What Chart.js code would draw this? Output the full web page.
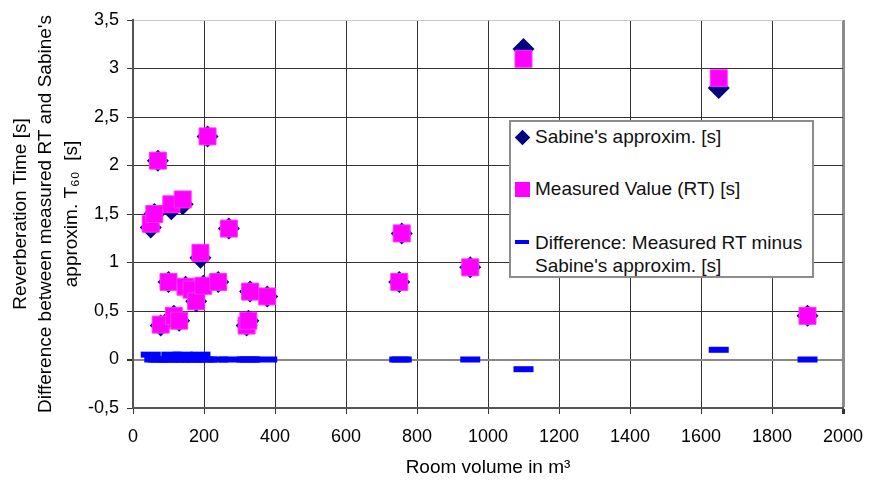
<!DOCTYPE html>
<html>
<head>
<meta charset="utf-8">
<script src="https://cdn.jsdelivr.net/npm/chart.js@4.4.1/dist/chart.umd.min.js"></script>
<style>
body { margin: 0; background: #fff; font-family: "Liberation Sans", Arial, sans-serif; }
#wrap { position: relative; width: 870px; height: 486px; }
#legendBox { position: absolute; left: 509px; top: 120px; width: 301px; height: 154px; border: 2px solid #8c8c8c; background: #fff; }
.item { position: absolute; left: 24px; font-size: 19px; color: #111; white-space: nowrap; line-height: 22px; }
.mk { position: absolute; }
</style>
</head>
<body>
<div id="wrap">
  <canvas id="rtChart" width="870" height="486"></canvas>
  <div id="legendBox">
    <div class="mk" style="left:6px;top:9.5px;width:11px;height:11px;background:#000080;transform:rotate(45deg);"></div>
    <div class="item" style="top:4px;">Sabine's approxim. [s]</div>
    <div class="mk" style="left:3.5px;top:59.5px;width:15px;height:15px;background:#ff00ff;"></div>
    <div class="item" style="top:56px;">Measured Value (RT) [s]</div>
    <div class="mk" style="left:4px;top:118px;width:14px;height:4px;background:#0000ff;"></div>
    <div class="item" style="top:108.5px;line-height:23px;">Difference: Measured RT minus<br>Sabine's approxim. [s]</div>
  </div>
</div>
<script>
// room volume [m3] for each measured room
const volumes    = [50, 60, 70, 78, 100, 108, 115, 130, 140, 148, 165, 178, 190, 198, 210, 240, 270, 320, 325, 330, 378, 750, 757, 950, 1100, 1650, 1900];
// Sabine's approximation [s]
const sabine     = [1.36, 1.50, 2.05, 0.35, 0.80, 1.55, 0.45, 0.40, 1.60, 0.75, 0.72, 0.60, 1.05, 0.76, 2.30, 0.80, 1.35, 0.35, 0.40, 0.70, 0.65, 0.80, 1.30, 0.95, 3.20, 2.80, 0.45];
// measured reverberation time [s]
const measured   = [1.40, 1.50, 2.05, 0.36, 0.80, 1.60, 0.45, 0.40, 1.65, 0.75, 0.72, 0.60, 1.10, 0.76, 2.30, 0.80, 1.35, 0.35, 0.40, 0.70, 0.65, 0.80, 1.30, 0.95, 3.10, 2.90, 0.45];
// difference measured minus Sabine [s]
const difference = [0.05, 0.00, 0.00, 0.00, 0.00, 0.05, 0.00, 0.00, 0.05, 0.00, 0.00, 0.00, 0.05, 0.00, 0.00, 0.00, 0.00, 0.00, 0.00, 0.00, 0.00, 0.00, 0.00, 0.00, -0.10, 0.10, 0.00];

const toPoints = (vals) => volumes.map((v, i) => ({ x: v, y: vals[i] }));
const family = '"Liberation Sans", Arial, sans-serif';
const tickFont = { family: family, size: 18 };

const ctx = document.getElementById('rtChart').getContext('2d');
const rtChart = new Chart(ctx, {
    type: 'scatter',
    data: {
        datasets: [{
            label: 'Difference: Measured RT minus Sabine\'s approxim. [s]',
            data: toPoints(difference),
            pointStyle: 'line',
            pointRadius: 10,
            borderColor: '#0000ff',
            borderWidth: 6,
            order: 1
        }, {
            label: 'Measured Value (RT) [s]',
            data: toPoints(measured),
            pointStyle: 'rect',
            pointRadius: 12,
            backgroundColor: '#ff00ff',
            borderColor: '#ff33ff',
            borderWidth: 1,
            order: 2
        }, {
            label: 'Sabine\'s approxim. [s]',
            data: toPoints(sabine),
            pointStyle: 'rectRot',
            pointRadius: 11,
            backgroundColor: '#000080',
            borderColor: '#000080',
            borderWidth: 0,
            order: 3
        }]
    },
    options: {
        responsive: false,
        animation: false,
        layout: { padding: { left: 0, right: 27, top: 20, bottom: 0 } },
        plugins: {
            legend: { display: false },
            tooltip: { enabled: false }
        },
        scales: {
            x: {
                type: 'linear',
                min: 0,
                max: 2000,
                afterFit: (scale) => {
                    scale.height = 78;
                    scale.paddingLeft = 0;
                    scale.paddingRight = 0;
                },
                ticks: { stepSize: 200, color: '#000', font: tickFont, padding: 12, maxRotation: 0, callback: (v) => String(v) },
                grid: {
                    color: (c) => c.tick && c.tick.value === 2000 ? '#8c8c8c' : '#333',
                    lineWidth: (c) => c.tick && c.tick.value === 2000 ? 3 : 1,
                    tickLength: 6,
                    tickColor: '#333'
                },
                border: { color: '#555', width: 2 },
                title: { display: true, text: 'Room volume in m³', color: '#000', font: { family: family, size: 19 }, padding: { top: 0, bottom: 7 } }
            },
            y: {
                min: -0.5,
                max: 3.5,
                afterFit: (scale) => { scale.width = 133; },
                ticks: {
                    stepSize: 0.5,
                    color: '#000',
                    font: tickFont,
                    padding: 8,
                    callback: (v) => String(v).replace('.', ',')
                },
                grid: {
                    color: (c) => c.tick && c.tick.value === 3.5 ? '#c8c8c8' : (c.tick && c.tick.value === 0 ? '#888' : '#333'),
                    lineWidth: (c) => c.tick && c.tick.value === 0 ? 2 : 1,
                    tickLength: 6,
                    tickColor: '#333'
                },
                border: { color: '#555', width: 2 },
                title: {
                    display: true,
                    text: ['Reverberation Time [s]', 'Difference between measured RT and Sabine\'s', 'approxim. T\u2086\u2080  [s]'],
                    color: '#000',
                    font: { family: family, size: 19, lineHeight: 1.34 },
                    padding: { top: 8, bottom: 0 }
                }
            }
        }
    }
});
</script>
</body>
</html>
